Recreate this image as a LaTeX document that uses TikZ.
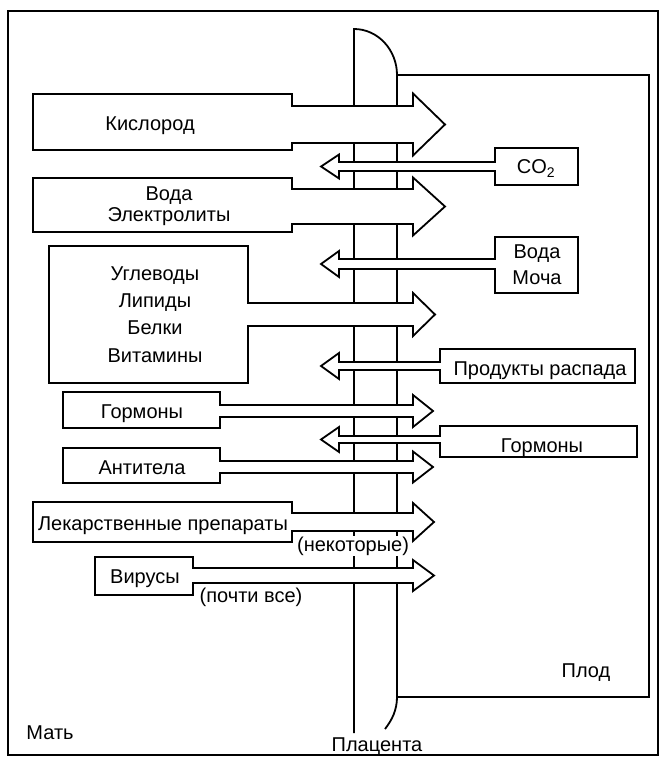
\documentclass[tikz,border=0pt]{standalone}
\usepackage{fontspec}
\setmainfont{Liberation Sans}
\tikzset{
    myframe/.style = {draw=black, line width=1.8pt},
    mybox/.style = {draw=black, fill=white, line width=1.8pt, line join=miter},
    mylabel/.style = {inner sep=0pt, anchor=base, align=center, font=\fontsize{20}{23}\selectfont},
    mynote/.style = {mylabel, fill=white, inner sep=1pt},
}

\begin{document}
\begin{tikzpicture}[x=1pt, y=-1pt, line width=1.8pt]
  \useasboundingbox (0,0) rectangle (664,759);
  \fill[white] (0,0) rectangle (664,759);
  % outer frame (mother)
  \draw[myframe] (8,11) rectangle (658,755);
  % placenta and fetus
  \draw[myframe] (354,733) -- (354,29) .. controls (378,29) and (397,50) .. (397,75)
    -- (397,697) .. controls (397,710) and (392,720) .. (385,729);
  \draw[myframe] (397,75) -- (649,75) -- (649,697) -- (397,697);
  % mother -> fetus
  \foreach \xa/\bt/\bb/\xs/\st/\sb/\hh/\tip in {
      33/94/150/292/106/143/31/445,
      33/178/232/292/189/224/29/445,
      49/246/383/248/303/326/21.5/435,
      63/392/428/220/405/417/16/433,
      63/448/483/220/461/473/15.5/433,
      33/502/542/292/513/531/19/434,
      95/557/595/193/568/583/15.5/434}
    \draw[mybox] (\xa,\bt) -- (\xs,\bt) -- (\xs,\st) -- (413,\st)
      -- (413,{(\st+\sb)/2-\hh}) -- (\tip,{(\st+\sb)/2}) -- (413,{(\st+\sb)/2+\hh})
      -- (413,\sb) -- (\xs,\sb) -- (\xs,\bb) -- (\xa,\bb) -- cycle;
  % fetus -> mother
  \foreach \xa/\xb/\bt/\bb/\st/\sb/\hh in {
      495/578/148/185/162/171/12,
      495/578/237/293/259/269/13,
      440/635/349/383/362/370/13,
      440/637/426/457/436/443/12.5}
    \draw[mybox] (\xa,\bt) -- (\xb,\bt) -- (\xb,\bb) -- (\xa,\bb) -- (\xa,\sb)
      -- (339,\sb) -- (339,{(\st+\sb)/2+\hh}) -- (321,{(\st+\sb)/2})
      -- (339,{(\st+\sb)/2-\hh}) -- (339,\st) -- (\xa,\st) -- cycle;
  % labels
  \node[mylabel] (oxygen) at (150,131) {Кислород};
  \node[mylabel] (water) at (169,222) {Вода\\[-2pt]Электролиты};
  \node[mylabel] (carbon) at (536,174) {CO\textsubscript{2}};
  \node[mylabel] (urine) at (537,284) {Вода\\[3pt]Моча};
  \node[mylabel] (nutrients) at (155,362) {Углеводы\\[4.3pt]Липиды\\[4.3pt]Белки\\[4.3pt]Витамины};
  \node[mylabel] (waste) at (540,375) {Продукты распада};
  \node[mylabel] (hormm) at (142,418) {Гормоны};
  \node[mylabel] (hormf) at (542,452) {Гормоны};
  \node[mylabel] (antib) at (142,474) {Антитела};
  \node[mylabel] (drugs) at (163,530) {Лекарственные препараты};
  \node[mynote] (drugsnote) at (353,551) {(некоторые)};
  \node[mylabel] (virus) at (145,583) {Вирусы};
  \node[mylabel] (virusnote) at (251,602) {(почти все)};
  \node[mylabel] (fetus) at (586,677) {Плод};
  \node[mylabel] (mother) at (50,739) {Мать};
  \node[mylabel] (placenta) at (377,751) {Плацента};
\end{tikzpicture}
\end{document}
